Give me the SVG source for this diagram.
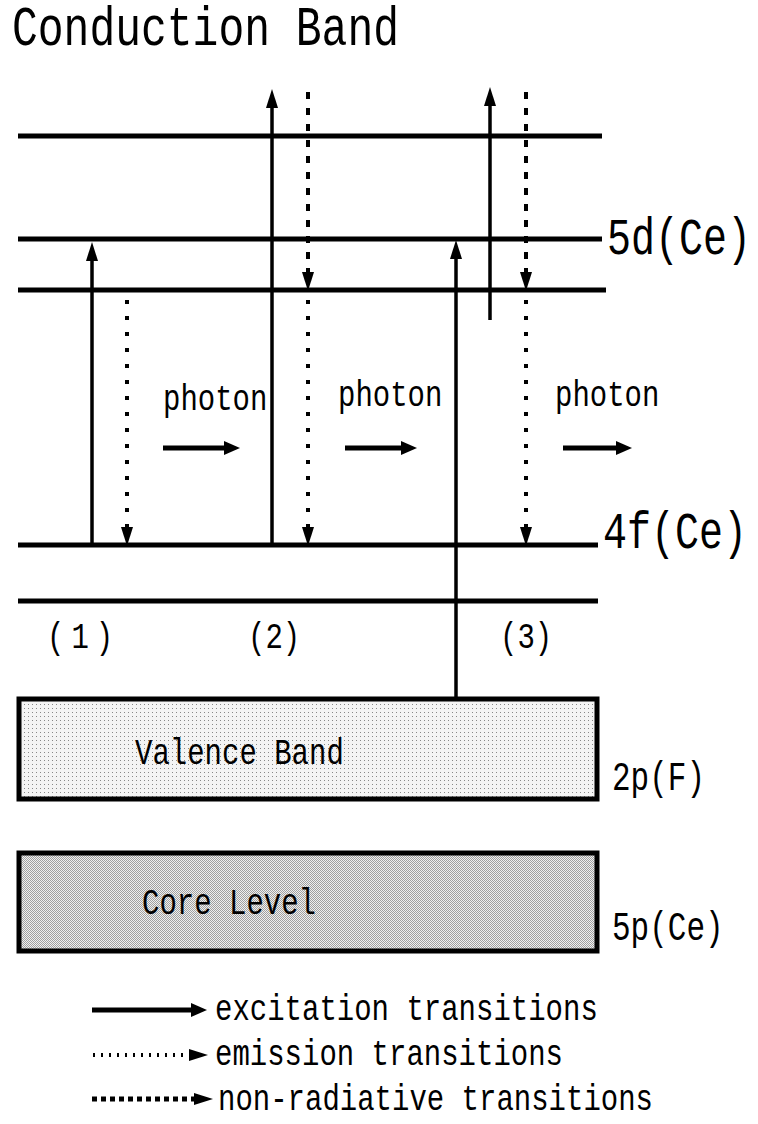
<svg xmlns="http://www.w3.org/2000/svg" width="758" height="1124" viewBox="0 0 758 1124">
<style>
.t{font-family:"Liberation Mono","DejaVu Sans Mono",monospace;fill:#000}
.lvl{stroke:#000;stroke-width:5;fill:none}
.exc{stroke:#000;stroke-width:3.5;fill:none}
.emi{stroke:#000;stroke-width:4;stroke-dasharray:4 12;fill:none}
.non{stroke:#000;stroke-width:4;stroke-dasharray:7 9;fill:none}
.lemi{stroke:#000;stroke-width:4;stroke-dasharray:2 6;fill:none}
.lnon{stroke:#000;stroke-width:5;stroke-dasharray:5 4;fill:none}
.box{stroke:#000;stroke-width:5}
</style>
<defs>
<marker id="h" markerUnits="userSpaceOnUse" markerWidth="20" markerHeight="12" refX="8" refY="6" orient="auto" viewBox="0 0 20 12">
<path d="M0,0 L19,6 L0,12 z" fill="#000"/>
</marker>
<marker id="hp" markerUnits="userSpaceOnUse" markerWidth="16" markerHeight="14" refX="6" refY="7" orient="auto" viewBox="0 0 16 14">
<path d="M0,0 L16,7 L0,14 z" fill="#000"/>
</marker>
<pattern id="pv" width="4" height="4" patternUnits="userSpaceOnUse">
<rect width="4" height="4" fill="#f4f4f4"/>
<rect width="1" height="1" fill="#888"/>
</pattern>
<pattern id="pc" width="2" height="2" patternUnits="userSpaceOnUse">
<rect width="2" height="2" fill="#f0f0f0"/>
<rect width="1" height="1" fill="#a0a0a0"/>
<rect x="1" y="1" width="1" height="1" fill="#a0a0a0"/>
</pattern>
</defs>

<g id="title"><text class="t" font-size="43" transform="translate(12,45) scale(1,1.3)">Conduction Band</text></g>

<g id="levels">
<line class="lvl" x1="18" y1="136" x2="602" y2="136"/>
<line class="lvl" x1="18" y1="239" x2="602" y2="239"/>
<line class="lvl" x1="18" y1="290" x2="606" y2="290"/>
<line class="lvl" x1="18" y1="545" x2="598" y2="545"/>
<line class="lvl" x1="18" y1="601" x2="598" y2="601"/>
</g>

<g id="label-5d"><text class="t" font-size="40" transform="translate(607,254) scale(1,1.3)">5d(Ce)</text></g>
<g id="label-4f"><text class="t" font-size="40" transform="translate(603,548) scale(1,1.3)">4f(Ce)</text></g>

<g id="valence-band">
<rect class="box" x="19" y="699" width="578" height="100" fill="url(#pv)"/>
<text class="t" font-size="29" transform="translate(135,764) scale(1,1.3)">Valence Band</text>
</g>
<g id="label-2p"><text class="t" font-size="31" transform="translate(612,790) scale(1,1.3)">2p(F)</text></g>

<g id="core-level">
<rect class="box" x="19" y="853" width="578" height="98" fill="url(#pc)"/>
<text class="t" font-size="29" transform="translate(142,914) scale(1,1.3)">Core Level</text>
</g>
<g id="label-5p"><text class="t" font-size="31" transform="translate(612,940) scale(1,1.3)">5p(Ce)</text></g>

<g id="case-labels">
<text class="t" font-size="29" letter-spacing="7" transform="translate(47,648) scale(1,1.3)">(1)</text>
<text class="t" font-size="29" transform="translate(248,648) scale(1,1.3)">(2)</text>
<text class="t" font-size="29" transform="translate(500,648) scale(1,1.3)">(3)</text>
</g>

<g id="photons">
<text class="t" font-size="29" transform="translate(163,410) scale(1,1.3)">photon</text>
<text class="t" font-size="29" transform="translate(338,406) scale(1,1.3)">photon</text>
<text class="t" font-size="29" transform="translate(555,406) scale(1,1.3)">photon</text>
</g>

<g id="connectors">
<line class="exc" x1="92" y1="545" x2="92" y2="253" marker-end="url(#h)"/>
<line class="emi" x1="127" y1="300" x2="127" y2="535" marker-end="url(#h)"/>
<line class="exc" x1="272" y1="545" x2="272" y2="100" marker-end="url(#h)"/>
<line class="non" x1="308" y1="92" x2="308" y2="280" marker-end="url(#h)"/>
<line class="emi" x1="308" y1="300" x2="308" y2="535" marker-end="url(#h)"/>
<line class="exc" x1="456" y1="697" x2="456" y2="251" marker-end="url(#h)"/>
<line class="exc" x1="490" y1="320" x2="490" y2="98" marker-end="url(#h)"/>
<line class="non" x1="526" y1="92" x2="526" y2="280" marker-end="url(#h)"/>
<line class="emi" x1="526" y1="300" x2="526" y2="535" marker-end="url(#h)"/>
<line class="lvl" x1="163" y1="448" x2="230" y2="448" marker-end="url(#hp)"/>
<line class="lvl" x1="345" y1="448" x2="407" y2="448" marker-end="url(#hp)"/>
<line class="lvl" x1="563" y1="448" x2="622" y2="448" marker-end="url(#hp)"/>
</g>

<g id="legend">
<line class="lvl" x1="92" y1="1010" x2="197" y2="1010" marker-end="url(#hp)"/>
<text class="t" font-size="29" transform="translate(215,1020) scale(1,1.3)">excitation transitions</text>
<line class="lemi" x1="93" y1="1055" x2="197" y2="1055" marker-end="url(#h)"/>
<text class="t" font-size="29" transform="translate(215,1065) scale(1,1.3)">emission transitions</text>
<line class="lnon" x1="92" y1="1099" x2="202" y2="1099" marker-end="url(#h)"/>
<text class="t" font-size="29" transform="translate(218,1110) scale(1,1.3)">non-radiative transitions</text>
</g>
</svg>
